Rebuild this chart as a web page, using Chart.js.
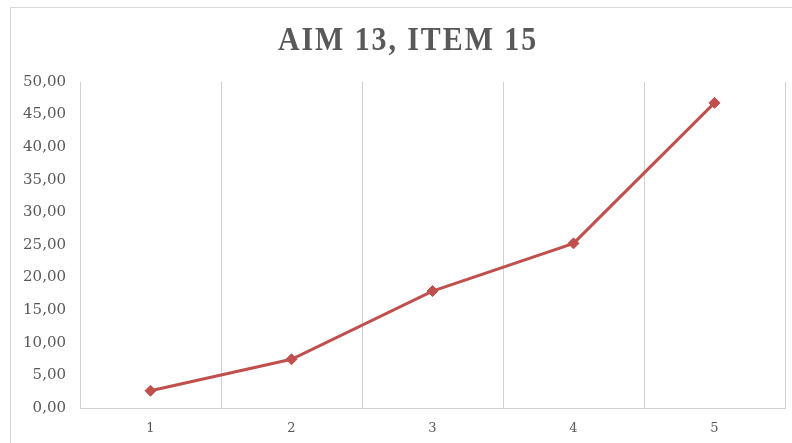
<!DOCTYPE html>
<html>
<head>
<meta charset="utf-8">
<script src="https://cdn.jsdelivr.net/npm/chart.js@4"></script>
<style>
  html, body { margin: 0; padding: 0; background: #fff; overflow: hidden; }
  #frame { position: absolute; left: 10px; top: 7px; width: 800px; height: 450px;
           border-left: 1px solid #d9d9d9; border-top: 1px solid #d9d9d9; }
  #chart { position: absolute; left: 0; top: 0; }
</style>
</head>
<body>
<div id="frame"></div>
<canvas id="chart" width="792" height="443"></canvas>
<script>
// AIM 13, ITEM 15 -- line chart

const titleText = 'AIM 13, ITEM 15';
const categories = ['1', '2', '3', '4', '5'];
const values = [2.65, 7.47, 17.94, 25.25, 46.8];
const yTicks = [0, 5, 10, 15, 20, 25, 30, 35, 40, 45, 50];

const grey = '#595959';
const lineRed = '#C0504D';
const gridGrey = '#d0d0d0';

const fmt = v => v.toFixed(2).replace('.', ',');

// title drawn by hand: spaced out, slightly condensed serif
const titlePlugin = {
  id: 'spacedTitle',
  afterDraw(chart) {
    const ctx = chart.ctx;
    const sx = 0.88;
    ctx.save();
    ctx.font = 'bold 34px "Liberation Serif"';
    ctx.letterSpacing = '2.2px';
    ctx.fillStyle = grey;
    ctx.textBaseline = 'alphabetic';
    ctx.textAlign = 'center';
    ctx.scale(sx, 1);
    ctx.fillText(titleText, 408 / sx, 50);
    ctx.restore();
  }
};

new Chart(document.getElementById('chart'), {
  type: 'line',
  data: {
    labels: categories,
    datasets: [{
      data: values,
      borderColor: lineRed,
      backgroundColor: lineRed,
      borderWidth: 3,
      pointStyle: 'rectRot',
      pointRadius: 5.5,
      pointHoverRadius: 5.5,
      pointBorderWidth: 1,
      tension: 0
    }]
  },
  options: {
    responsive: false, animation: false,
    layout: { padding: { left: 0, right: 7, top: 82, bottom: 0 } },
    plugins: {
      legend: { display: false },
      tooltip: { enabled: false },
      title: { display: false }
    },
    scales: {
      x: {
        offset: true,
        grid: { display: true, offset: true, color: gridGrey, lineWidth: 1, drawTicks: false },
        border: { display: true, color: gridGrey, width: 1 },
        ticks: { color: grey, padding: 13, font: { family: 'DejaVu Serif', size: 13 } },
        afterFit: s => { s.height = 35; }
      },
      y: {
        min: 0, max: 50,
        afterBuildTicks: s => { s.ticks = yTicks.map(v => ({ value: v })); },
        grid: { display: false, drawTicks: false },
        border: { display: false },
        ticks: { color: grey, padding: 14, font: { family: 'DejaVu Serif', size: 15 }, callback: v => fmt(v) },
        afterFit: s => { s.width = 80; }
      }
    }
  },
  plugins: [titlePlugin]
});
</script>
</body>
</html>
